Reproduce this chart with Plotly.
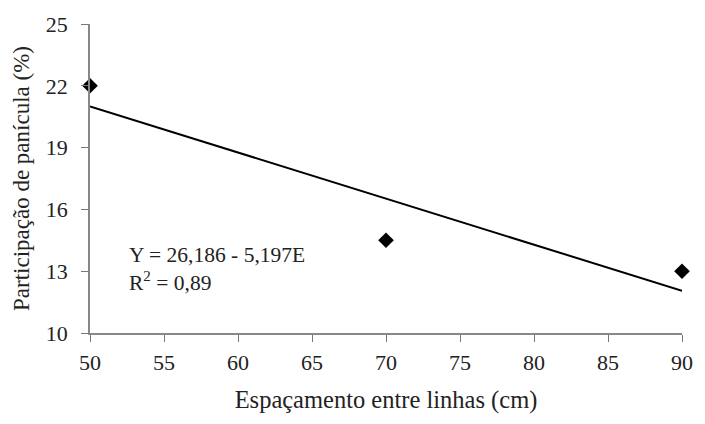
import plotly.graph_objects as go

espacamento = [50, 70, 90]
participacao = [22.0, 14.5, 13.0]
reta_x = [50, 90]
reta_y = [21.0, 12.05]
x_ticks = [50, 55, 60, 65, 70, 75, 80, 85, 90]
y_ticks = [10, 13, 16, 19, 22, 25]

fig = go.Figure()
fig.add_trace(go.Scatter(x=reta_x, y=reta_y, mode="lines",
                         line=dict(color="black", width=2), showlegend=False, cliponaxis=False))
fig.add_trace(go.Scatter(x=espacamento, y=participacao, mode="markers",
                         marker=dict(symbol="diamond", size=12, color="black"),
                         showlegend=False, cliponaxis=False))

font = "Times New Roman"
fig.update_layout(
    width=705, height=424,
    margin=dict(l=90, r=14, t=24, b=91),
    paper_bgcolor="white", plot_bgcolor="white",
    font=dict(family=font, color="#222", size=20),
    xaxis=dict(range=[50, 90], tickvals=x_ticks, showgrid=False, zeroline=False,
               showline=True, linecolor="#888", linewidth=1.5,
               ticks="outside", ticklen=7, tickcolor="#777", ticklabelstandoff=2,
               tickfont=dict(size=22, family=font),
               title=dict(text="Espaçamento entre linhas (cm)", font=dict(size=24.5, family=font), standoff=17)),
    yaxis=dict(range=[10, 25], tickvals=y_ticks, showgrid=False, zeroline=False,
               showline=True, linecolor="#888", linewidth=1.5,
               ticks="outside", ticklen=7, tickcolor="#777", ticklabelstandoff=9,
               tickfont=dict(size=22, family=font),
               title=dict(text="Participação de panícula (%)", font=dict(size=23, family=font), standoff=10)),
    annotations=[
        dict(x=0.062, y=0.115, xref="paper", yref="paper", xanchor="left", yanchor="bottom",
             text="Y = 26,186 - 5,197E<br>R<sup>2</sup> = 0,89", showarrow=False, align="left",
             font=dict(size=21.5, family=font, color="#222")),
    ],
)
fig.write_html("out.html")
